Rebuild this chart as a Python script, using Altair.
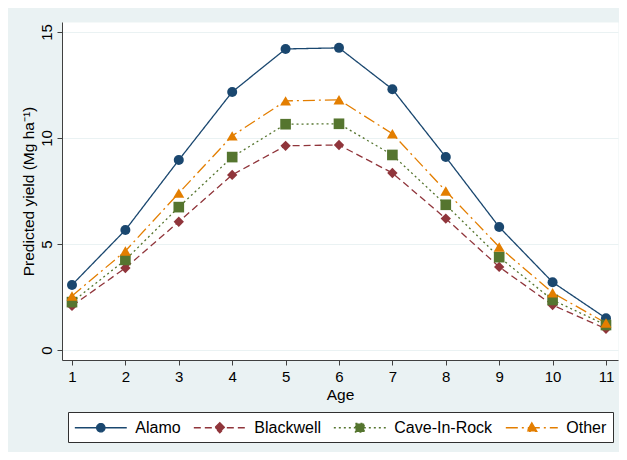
import altair as alt
import pandas as pd

ages = [1, 2, 3, 4, 5, 6, 7, 8, 9, 10, 11]
series = ["Alamo", "Blackwell", "Cave-In-Rock", "Other"]
alamo = [3.07, 5.66, 8.96, 12.17, 14.2, 14.25, 12.3, 9.1, 5.8, 3.2, 1.5]
blackwell = [2.08, 3.87, 6.05, 8.26, 9.63, 9.67, 8.35, 6.2, 3.92, 2.12, 1.0]
cave = [2.26, 4.25, 6.74, 9.1, 10.65, 10.67, 9.2, 6.85, 4.38, 2.36, 1.18]
other = [2.55, 4.67, 7.4, 10.1, 11.75, 11.8, 10.2, 7.5, 4.86, 2.7, 1.27]

colors = ["#1a476f", "#90353b", "#55752f", "#e37e00"]
dashes = [[1, 0], [7, 4], [2, 3], [12, 4, 2, 4]]
shapes = ["circle", "diamond", "square", "triangle-up"]
sizes = [100, 120, 76, 110]
legend_shapes = [
    "M-3,0H3M-0.48,0A0.48,0.48,0,1,0,0.48,0A0.48,0.48,0,1,0,-0.48,0Z",
    "M-3,0H3M0,-0.58L0.58,0L0,0.58L-0.58,0Z",
    "M-3,0H3M-0.5,-0.5H0.5V0.5H-0.5Z",
    "M-3,0H3M0,-0.58L0.58,0.42H-0.58Z",
]

rows = []
for name, vals in zip(series, [alamo, blackwell, cave, other]):
    for a, v in zip(ages, vals):
        rows.append({"age": a, "yield": v, "series": name})
df = pd.DataFrame(rows)

FONT = "Liberation Sans"

x = alt.X("age:Q", scale=alt.Scale(domain=[0.813, 11.225], nice=False, zero=False),
          axis=alt.Axis(values=ages, title="Age", grid=False, tickSize=5,
                        labelPadding=4, titlePadding=3, labelFlush=False,
                        domainColor="#404040", tickColor="#404040"))
y = alt.Y("yield:Q", scale=alt.Scale(domain=[-0.47, 15.47], nice=False, zero=False),
          axis=alt.Axis(values=[0, 5, 10, 15], title="Predicted yield (Mg ha⁻¹)",
                        grid=True, gridColor="#eaf2f3", gridWidth=1.2,
                        tickSize=5, labelAngle=270, labelAlign="center",
                        labelBaseline="bottom", labelPadding=3, titlePadding=3,
                        domainColor="#404040", tickColor="#404040"))

cscale = alt.Scale(domain=series, range=colors)

lines = alt.Chart(df).mark_line(strokeWidth=1.3).encode(
    x=x, y=y,
    color=alt.Color("series:N", scale=cscale, legend=None),
    strokeDash=alt.StrokeDash("series:N", scale=alt.Scale(domain=series, range=dashes), legend=None),
)

points = alt.Chart(df).mark_point(filled=True, opacity=1).encode(
    x=x, y=y,
    color=alt.Color("series:N", scale=cscale, legend=None),
    shape=alt.Shape("series:N", scale=alt.Scale(domain=series, range=shapes), legend=None),
    size=alt.Size("series:N", scale=alt.Scale(domain=series, range=sizes), legend=None),
)

leg = alt.Legend(title=None, orient="none", legendX=6, legendY=390, direction="horizontal",
                 columns=4, columnPadding=10, padding=6, strokeColor="#303030",
                 fillColor="white", symbolOffset=17.3, labelOffset=25,
                 labelFontSize=16, labelFont=FONT, labelColor="black",
                 symbolSize=300, symbolStrokeWidth=1.3)

legend_layer = alt.Chart(df).transform_filter("false").mark_point(
    filled=True, opacity=1, size=300, strokeWidth=1.3).encode(
    x=x, y=y,
    fill=alt.Fill("series:N", scale=alt.Scale(domain=series, range=colors), legend=leg),
    stroke=alt.Stroke("series:N", scale=alt.Scale(domain=series, range=colors), legend=leg),
    shape=alt.Shape("series:N", scale=alt.Scale(domain=series, range=legend_shapes), legend=leg),
    strokeDash=alt.StrokeDash("series:N", scale=alt.Scale(domain=series, range=dashes), legend=leg),
)

chart = alt.layer(lines, points, legend_layer).resolve_scale(
    color="independent", shape="independent", strokeDash="independent",
    size="independent", fill="independent", stroke="independent",
).properties(
    width=556, height=338,
    autosize=alt.AutoSizeParams(type="none"),
    padding={"left": 54, "top": 14, "right": 1, "bottom": 92},
    background="#eaf2f3",
).configure_view(
    fill="white", stroke="transparent"
).configure_axis(
    labelFont=FONT, titleFont=FONT, labelFontSize=15, titleFontSize=15.5,
    titleFontWeight="normal", labelColor="black", titleColor="black",
)

chart.save("out.html", embed_options={"renderer": "svg", "actions": False})
